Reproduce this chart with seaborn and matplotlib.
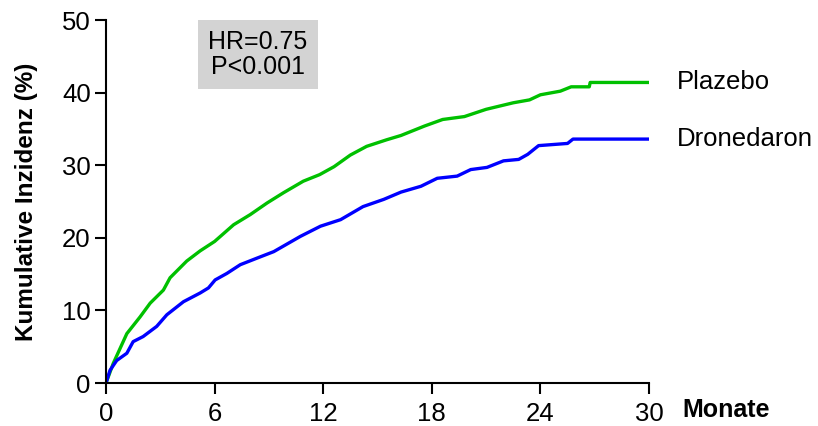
import matplotlib.pyplot as plt
import pandas as pd
import seaborn as sns

# Kaplan-Meier style cumulative incidence
plazebo_months = [0, 0.4, 1.15, 1.88, 2.44, 3.17, 3.54, 4.46, 5.2, 6.0, 7.05, 7.97, 8.9, 9.8,
                  10.9, 11.8, 12.6, 13.5, 14.4, 15.5, 16.3, 17.6, 18.6, 19.8, 21.0, 22.5,
                  23.4, 24.0, 25.1, 25.7, 26.7, 26.75, 30.0]
plazebo_values = [0, 2.7, 6.8, 9.1, 11.0, 12.8, 14.5, 16.8, 18.2, 19.5, 21.8, 23.2, 24.8, 26.2,
                  27.8, 28.7, 29.8, 31.4, 32.6, 33.5, 34.1, 35.4, 36.3, 36.7, 37.7, 38.6,
                  39.0, 39.7, 40.2, 40.8, 40.8, 41.4, 41.4]

dronedaron_months = [0, 0.22, 0.59, 1.15, 1.5, 2.05, 2.8, 3.36, 4.28, 5.2, 5.66, 6.03, 6.68,
                     7.42, 8.34, 9.27, 10.74, 11.85, 12.96, 14.2, 15.35, 16.3, 17.4, 18.3,
                     19.4, 20.15, 21.05, 21.96, 22.8, 23.3, 23.9, 25.5, 25.8, 30.0]
dronedaron_values = [0, 1.75, 3.1, 4.1, 5.7, 6.4, 7.8, 9.4, 11.2, 12.4, 13.1, 14.2, 15.1,
                     16.3, 17.2, 18.1, 20.2, 21.6, 22.5, 24.3, 25.3, 26.3, 27.1, 28.2,
                     28.5, 29.4, 29.7, 30.6, 30.8, 31.5, 32.7, 33.0, 33.6, 33.6]

x_ticks = [0, 6, 12, 18, 24, 30]
y_ticks = [0, 10, 20, 30, 40, 50]

df = pd.concat([
    pd.DataFrame({'month': plazebo_months, 'value': plazebo_values, 'group': 'Plazebo'}),
    pd.DataFrame({'month': dronedaron_months, 'value': dronedaron_values, 'group': 'Dronedaron'}),
])
colors = {'Plazebo': '#00c000', 'Dronedaron': '#0000ff'}

sns.set_style('ticks')
plt.rcParams['font.family'] = ['Liberation Sans', 'DejaVu Sans']
plt.rcParams['text.color'] = 'black'
plt.rcParams['axes.labelcolor'] = 'black'
plt.rcParams['xtick.color'] = 'black'
plt.rcParams['ytick.color'] = 'black'

fig = plt.figure(figsize=(8.18, 4.26), dpi=100)
ax = fig.add_axes([0.1296, 0.1009, 0.6638, 0.8521])

sns.lineplot(data=df, x='month', y='value', hue='group', palette=colors,
             linewidth=2.4, legend=False, ax=ax, sort=False)

ax.set_xlim(0, 30)
ax.set_ylim(0, 50)
ax.set_xticks(x_ticks)
ax.set_yticks(y_ticks)
ax.tick_params(axis='both', labelsize=18.5, length=8, width=1.5, colors='black')
ax.tick_params(axis='x', pad=6)
ax.tick_params(axis='y', pad=3)
for side in ['left', 'bottom']:
    ax.spines[side].set_linewidth(1.5)
    ax.spines[side].set_color('black')
sns.despine(ax=ax)

ax.set_xlabel('')
ax.set_ylabel('Kumulative Inzidenz (%)', fontsize=17.5, fontweight='bold', labelpad=17)
ax.text(1.061, -0.075, 'Monate', transform=ax.transAxes, fontsize=18, fontweight='bold',
        ha='left', va='center')

for name, vals in [('Plazebo', plazebo_values), ('Dronedaron', dronedaron_values)]:
    ax.annotate(name, xy=(30, vals[-1]), xytext=(20, 0), textcoords='offset points',
                fontsize=18.5, va='center', ha='left', annotation_clip=False)

ax.text(0.28, 0.905, 'HR=0.75\nP<0.001', transform=ax.transAxes, fontsize=18,
        ha='center', va='center', linespacing=1.1,
        bbox=dict(boxstyle='square,pad=0.4', facecolor='#d3d3d3', edgecolor='none'))

fig.savefig('out.png', dpi=100)
